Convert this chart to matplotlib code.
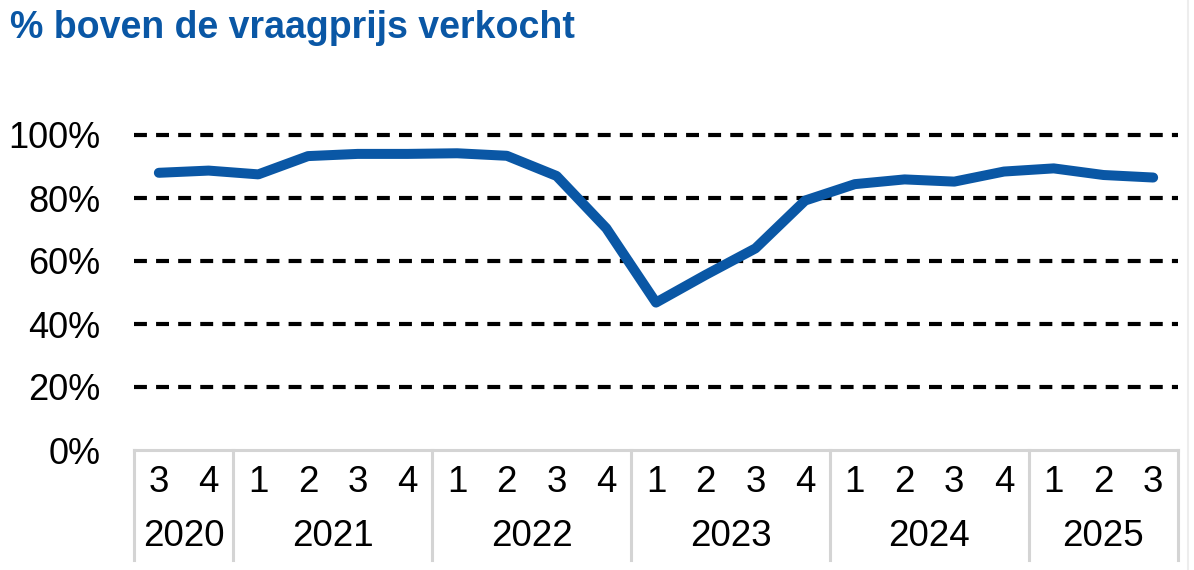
import matplotlib
matplotlib.use("Agg")
import matplotlib.pyplot as plt
from matplotlib.lines import Line2D
from matplotlib.transforms import blended_transform_factory

plt.rcParams['font.family'] = ['Liberation Sans', 'DejaVu Sans']

quarters = ["3", "4",
            "1", "2", "3", "4",
            "1", "2", "3", "4",
            "1", "2", "3", "4",
            "1", "2", "3", "4",
            "1", "2", "3"]
years = ["2020", "2021", "2022", "2023", "2024", "2025"]
quarters_per_year = [2, 4, 4, 4, 4, 3]
values = [88.0, 88.7, 87.5, 93.3, 94.0, 94.0, 94.2, 93.4, 87.0, 70.4,
          46.8, 55.6, 64.0, 79.2, 84.4, 85.9, 85.2, 88.4, 89.4, 87.3, 86.5]
yticks = [0, 20, 40, 60, 80, 100]
ytick_labels = ["0%", "20%", "40%", "60%", "80%", "100%"]
title = "% boven de vraagprijs verkocht"

blue = "#0A57A5"
gray = "#D4D4D4"

W, H = 1194, 570
fig = plt.figure(figsize=(W / 100, H / 100), dpi=100)
left, right, top, bottom = 134, 1178, 135, 450
ax = fig.add_axes([left / W, 1 - bottom / H, (right - left) / W, (bottom - top) / H])

n = len(values)
x = list(range(n))
ax.set_xlim(-0.5, n - 0.5)
ax.set_ylim(0, 100)

for yv in yticks[1:]:
    ax.axhline(yv, color="black", lw=3.0, dashes=(3.1, 2.2), zorder=1, clip_on=False)

ax.plot(x, values, color=blue, lw=7.2, solid_capstyle="round",
        solid_joinstyle="round", zorder=3, clip_on=False)

for s in ax.spines.values():
    s.set_visible(False)
ax.set_xticks([])
ax.set_yticks(yticks)
ax.set_yticklabels(ytick_labels)
ax.tick_params(axis="y", length=0, pad=24, labelsize=26)

trans = blended_transform_factory(ax.transData, ax.transAxes)
sep_bottom = -(560 - bottom) / (bottom - top)
ax.plot([-0.5, n - 0.5], [0, 0], transform=trans, color=gray, lw=2.2,
        clip_on=False, zorder=2)
pos = -0.5
seps = [pos]
for k in quarters_per_year:
    pos += k
    seps.append(pos)
for sx in seps:
    ax.plot([sx, sx], [0, sep_bottom], transform=trans, color=gray, lw=2.2,
            clip_on=False, zorder=2)

q_y = -(482 - bottom) / (bottom - top)
y_y = -(537 - bottom) / (bottom - top)
for i, q in enumerate(quarters):
    ax.text(i, q_y, q, transform=trans, ha="center", va="center", fontsize=26.5)
start = -0.5
for yr, k in zip(years, quarters_per_year):
    ax.text(start + k / 2, y_y, yr, transform=trans, ha="center", va="center",
            fontsize=26.5)
    start += k

fig.text(10 / W, 1 - 28 / H, title, color=blue, fontsize=27, fontweight="bold",
         ha="left", va="center")

fig.add_artist(Line2D([1188 / W, 1188 / W], [0, 1], transform=fig.transFigure,
                      color="#EDEDED", lw=1.5))

fig.savefig("out.png", dpi=100)
